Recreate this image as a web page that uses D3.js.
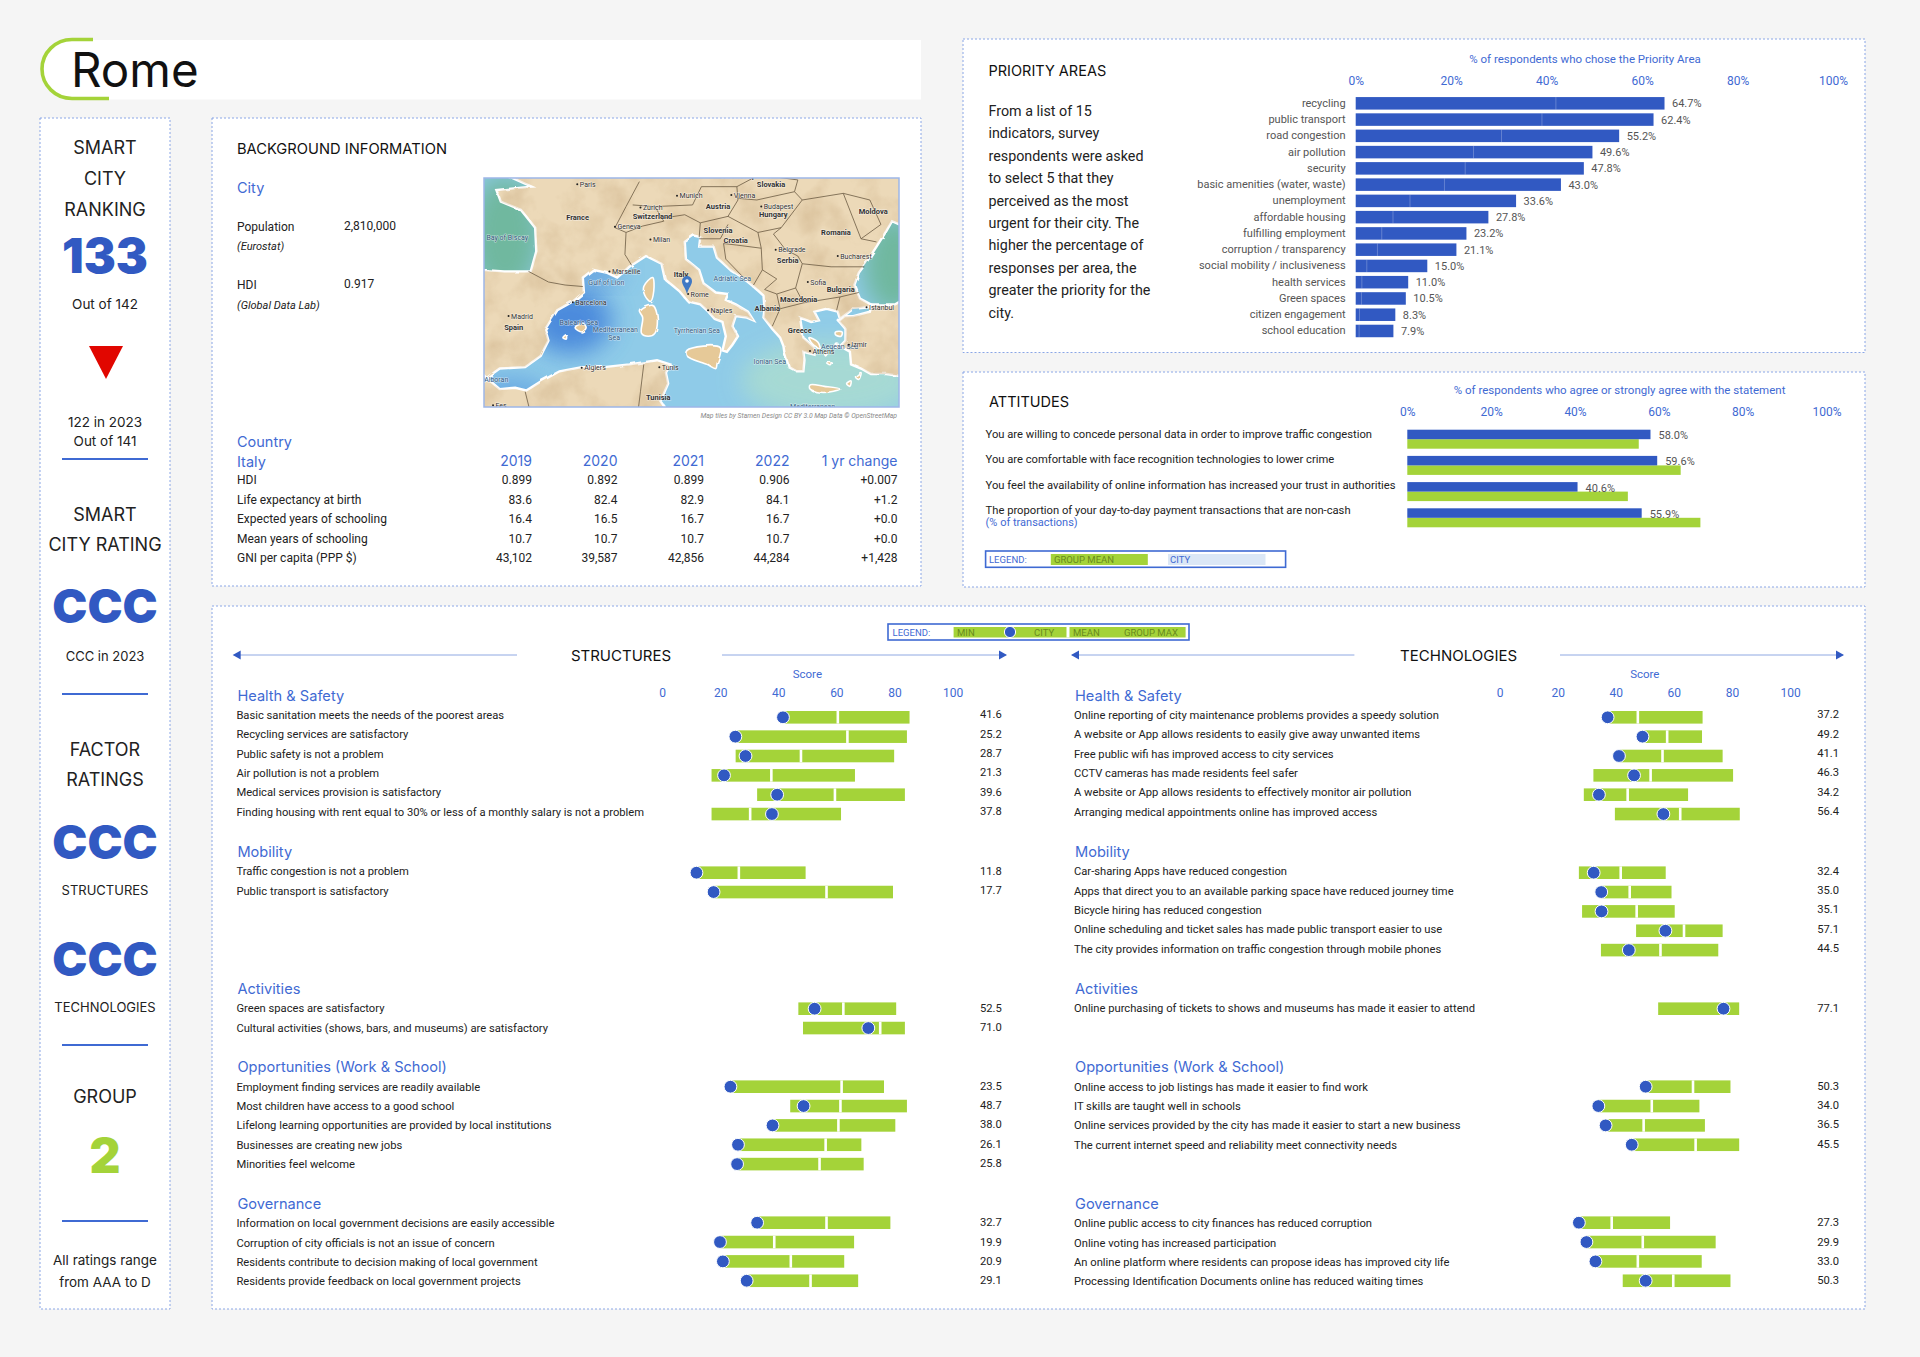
<!DOCTYPE html>
<html>
<head>
<meta charset="utf-8">
<title>Rome</title>
<script src="https://cdn.jsdelivr.net/npm/d3@7"></script>
<style>
  body { margin: 0; background: #f5f5f5; }
  text { font-family: Roboto, sans-serif; }
  .head { font-family: Inter, sans-serif; }
</style>
</head>
<body>
<div id="chart-area"></div>
<script>
const BLUE = '#3159c2', GREEN = '#a4d339', LINK = '#3f6ad3', DASH = '#8aa6e6', INK = '#222', GREY = '#555';

// ---- data ----
const tableYears = ['2019', '2020', '2021', '2022', '1 yr change'];
const tableHdi = ['HDI', '0.899', '0.892', '0.899', '0.906', '+0.007'];
const tableLife = ['Life expectancy at birth', '83.6', '82.4', '82.9', '84.1', '+1.2'];
const tableExpected = ['Expected years of schooling', '16.4', '16.5', '16.7', '16.7', '+0.0'];
const tableMean = ['Mean years of schooling', '10.7', '10.7', '10.7', '10.7', '+0.0'];
const tableGni = ['GNI per capita (PPP $)', '43,102', '39,587', '42,856', '44,284', '+1,428'];

const priorityLabels = ['recycling', 'public transport', 'road congestion', 'air pollution', 'security',
  'basic amenities (water, waste)', 'unemployment', 'affordable housing', 'fulfilling employment',
  'corruption / transparency', 'social mobility / inclusiveness', 'health services', 'Green spaces',
  'citizen engagement', 'school education'];
const priorityValues = [64.7, 62.4, 55.2, 49.6, 47.8, 43.0, 33.6, 27.8, 23.2, 21.1, 15.0, 11.0, 10.5, 8.3, 7.9];
const priorityText = ['From a list of 15', 'indicators, survey', 'respondents were asked', 'to select 5 that they',
  'perceived as the most', 'urgent for their city. The', 'higher the percentage of', 'responses per area, the',
  'greater the priority for the', 'city.'];

const attitudeLabels = ['You are willing to concede personal data in order to improve traffic congestion',
  'You are comfortable with face recognition technologies to lower crime',
  'You feel the availability of online information has increased your trust in authorities',
  'The proportion of your day-to-day payment transactions that are non-cash'];
const attitudeCity = [58.0, 59.6, 40.6, 55.9];
const attitudeGroup = [55.2, 65.2, 52.6, 69.9];

const percentTicks = [0, 20, 40, 60, 80, 100];
const groupNames = ['Health & Safety', 'Mobility', 'Activities', 'Opportunities (Work & School)', 'Governance'];

// rows: label, group min, city, group mean, group max
const sHealth = [
  ['Basic sanitation meets the needs of the poorest areas', 41.6, 41.6, 60.5, 85.2],
  ['Recycling services are satisfactory', 25.2, 25.2, 63.8, 84.3],
  ['Public safety is not a problem', 25.3, 28.7, 47.8, 79.9],
  ['Air pollution is not a problem', 17.0, 21.3, 37.6, 66.4],
  ['Medical services provision is satisfactory', 32.7, 39.6, 59.5, 83.6],
  ['Finding housing with rent equal to 30% or less of a monthly salary is not a problem', 17.0, 37.8, 30.3, 61.6]];
const sMobility = [
  ['Traffic congestion is not a problem', 11.8, 11.8, 26.4, 49.4],
  ['Public transport is satisfactory', 17.7, 17.7, 56.6, 79.5]];
const sActivities = [
  ['Green spaces are satisfactory', 46.9, 52.5, 62.4, 80.6],
  ['Cultural activities (shows, bars, and museums) are satisfactory', 48.5, 71.0, 75.1, 83.6]];
const sOpportunities = [
  ['Employment finding services are readily available', 23.5, 23.5, 61.8, 76.4],
  ['Most children have access to a good school', 44.1, 48.7, 61.4, 84.3],
  ['Lifelong learning opportunities are provided by local institutions', 38.0, 38.0, 60.7, 80.3],
  ['Businesses are creating new jobs', 26.1, 26.1, 56.3, 68.6],
  ['Minorities feel welcome', 25.8, 25.8, 54.2, 69.4]];
const sGovernance = [
  ['Information on local government decisions are easily accessible', 32.7, 32.7, 56.6, 78.6],
  ['Corruption of city officials is not an issue of concern', 19.9, 19.9, 38.6, 66.1],
  ['Residents contribute to decision making of local government', 20.9, 20.9, 44.3, 62.7],
  ['Residents provide feedback on local government projects', 29.1, 29.1, 51.1, 67.5]];

const tHealth = [
  ['Online reporting of city maintenance problems provides a speedy solution', 37.2, 37.2, 47.6, 69.9],
  ['A website or App allows residents to easily give away unwanted items', 49.2, 49.2, 57.7, 69.7],
  ['Free public wifi has improved access to city services', 41.1, 41.1, 56.1, 76.8],
  ['CCTV cameras has made residents feel safer', 32.3, 46.3, 52.0, 80.4],
  ['A website or App allows residents to effectively monitor air pollution', 29.0, 34.2, 44.1, 64.9],
  ['Arranging medical appointments online has improved access', 39.7, 56.4, 62.2, 82.7]];
const tMobility = [
  ['Car-sharing Apps have reduced congestion', 27.3, 32.4, 41.7, 57.2],
  ['Apps that direct you to an available parking space have reduced journey time', 35.0, 35.0, 44.8, 59.2],
  ['Bicycle hiring has reduced congestion', 28.4, 35.1, 47.2, 60.3],
  ['Online scheduling and ticket sales has made public transport easier to use', 47.0, 57.1, 63.5, 76.8],
  ['The city provides information on traffic congestion through mobile phones', 34.9, 44.5, 55.4, 75.3]];
const tActivities = [
  ['Online purchasing of tickets to shows and museums has made it easier to attend', 54.6, 77.1, 77.0, 82.5]];
const tOpportunities = [
  ['Online access to job listings has made it easier to find work', 50.3, 50.3, 66.6, 79.5],
  ['IT skills are taught well in schools', 34.0, 34.0, 52.4, 68.8],
  ['Online services provided by the city has made it easier to start a new business', 36.5, 36.5, 49.6, 70.7],
  ['The current internet speed and reliability meet connectivity needs', 45.5, 45.5, 67.5, 82.5]];
const tGovernance = [
  ['Online public access to city finances has reduced corruption', 27.3, 27.3, 38.6, 58.7],
  ['Online voting has increased participation', 29.9, 29.9, 49.3, 74.4],
  ['An online platform where residents can propose ideas has improved city life', 33.0, 33.0, 47.6, 69.6],
  ['Processing Identification Documents online has reduced waiting times', 42.4, 50.3, 59.8, 79.5]];

// ---- map data, lon/lat ----
const landEurope = [[-1.5,48.7],[-4.7,48.5],[-4.3,47.8],[-2.5,47.3],[-1.2,46.2],[-1.1,44.7],[-1.6,43.4],[-4,43.4],[-8,43.6],[-9,43],[-9,37],[-6.3,36.7],[-5.6,36],[-4.4,36.7],[-2.1,36.8],[-0.7,37.6],[0,38.7],[-0.3,39.5],[0.8,40.8],[2.2,41.4],[3.2,42],[3.1,43],[4,43.5],[5.3,43.3],[6.2,43],[7.3,43.7],[8.8,44.4],[10.2,43.9],[10.5,42.9],[11.8,42.1],[12.6,41.4],[13.7,41.2],[14.3,40.8],[15,40.2],[15.7,40],[16,39],[15.7,38],[16.1,37.9],[16.6,38.4],[17.1,39],[16.6,39.7],[16.9,40.4],[17.9,40.3],[18.5,40.1],[18,40.7],[16.9,41.2],[16,41.5],[16.2,41.9],[15.1,42],[14,42.6],[13.6,43.5],[12.4,44.2],[12.3,45.3],[13.1,45.7],[13.7,45.6],[13.6,45],[14.2,45],[14.9,45],[15.2,44.3],[16.4,43.5],[17.5,43],[18.5,42.4],[19.4,41.8],[19.5,40.9],[19.4,40.3],[20.2,39.5],[20.9,38.9],[21.2,38.3],[21.3,37.8],[21.7,36.8],[22.4,36.5],[23,36.5],[23.1,37.3],[23,37.9],[24,37.7],[24,38.2],[23,38.9],[22.9,39.3],[22.7,40.3],[23.7,40],[24.4,40.1],[24,40.7],[25.1,40.9],[26.1,40.7],[26.3,40.2],[27.5,40.9],[28.9,41],[29.1,41.2],[28.1,41.6],[27.6,42.5],[28,43.3],[28.6,43.9],[29.6,45],[30.5,46],[31,46.6],[33,46],[40,46],[40,52],[-8,52],[-6,50]];
const landTurkey = [[26.2,40.05],[26.8,39.5],[26.8,38.7],[26.3,38.3],[27.2,37.9],[27.3,37],[28.2,36.7],[29.1,36.3],[30.5,36.3],[33,36],[40,36],[40,42],[33,42],[31.3,41.2],[29.2,41.2],[29,40.7],[27.5,40.4],[26.7,40.4]];
const landAfrica = [[-8,35.5],[-6,35.7],[-5.4,35.9],[-4.4,35.2],[-3,35.3],[-2,35.1],[-0.6,35.8],[1,36.5],[3,36.8],[5,36.8],[7.3,37],[9.8,37.3],[11,37],[10.6,36.4],[10.8,35.6],[10.1,34.3],[11,33.3],[12,32.9],[20,31],[35,31],[35,28],[-8,28]];
const islands = [
  [[12.5,38],[15.5,38.2],[15.2,37],[15.1,36.7],[14.3,37],[12.5,37.6]],
  [[8.2,40.8],[9.3,41.2],[9.8,40.5],[9.6,39.2],[9,39],[8.4,39.2],[8.5,40.3]],
  [[9.4,43],[9.5,42.1],[9.2,41.4],[8.7,41.8],[8.6,42.4]],
  [[2.4,39.6],[3.1,39.9],[3.4,39.6],[3,39.3]],
  [[1.3,38.9],[1.6,39.1],[1.6,38.8]],
  [[23.6,35.5],[24.9,35.4],[26.3,35.2],[24.8,34.95],[23.6,35.2]],
  [[23.5,38.9],[24.3,38.6],[24.5,38.1],[23.9,38.4]],
  [[25.9,39.3],[26.5,39.3],[26.4,39],[25.9,39.1]],
  [[25.9,38.5],[26.1,38.5],[26.1,38.2],[25.9,38.2]],
  [[27.7,36.1],[28.2,36.4],[28,35.9]],
  [[25.1,37.1],[25.6,37.1],[25.5,36.9]],
  [[24.9,37.9],[25.2,37.9],[25,37.6]],
  [[26.9,35.6],[27.3,35.8],[27.2,35.4]]];
const borders = [
  [[-1.8,43.4],[0,42.7],[1.5,42.5],[3.1,42.4]],
  [[7.5,43.8],[6.9,44.5],[7,45.9],[6,46.2],[7,47.5],[8.2,49]],
  [[7,45.9],[8.5,46.3],[10.4,46.6],[9.6,47.5],[7.6,47.6]],
  [[10.4,46.8],[12.3,47],[13.7,46.5],[13.6,45.6]],
  [[9.6,47.5],[13,47.6],[13.8,48.7],[17,48.7],[17.1,47.9],[16.2,46.9],[13.7,46.5]],
  [[17.1,48],[18.8,47.9],[22.2,48.4],[22.9,47.9],[21,46.2],[18.9,45.9],[16.2,46.9]],
  [[13.6,45.5],[15.5,45.5],[16.2,46.4]],
  [[18.9,45.9],[19.2,44.9],[17,45.1],[15.8,45.2],[16,44.2],[17.6,43]],
  [[19.2,44.9],[19.3,43.5],[18.5,42.5]],
  [[19.3,43.5],[20.6,42.9],[19.5,42.2]],
  [[19.5,42.2],[20.6,41.9],[20.9,40.9],[20.2,39.7]],
  [[20.6,41.9],[22.3,42.3],[23,41.3],[20.9,40.9]],
  [[23,41.3],[26.3,41.7],[26,40.8]],
  [[26.3,41.7],[28,42]],
  [[22.3,42.3],[22.9,43.9],[22.5,44.4]],
  [[22.9,43.9],[25.5,43.7],[28.5,43.7]],
  [[21,46.2],[20.3,45.8],[21.4,44.8],[22.5,44.4]],
  [[26.6,48.3],[28.2,45.5],[29.6,45.3]],
  [[26.6,48.3],[29,47.9],[30,46.4],[28.2,45.5]],
  [[22.9,47.9],[26.6,48.3]],
  [[17,48.7],[19,49.4],[22.5,49.1],[22.2,48.4]],
  [[8.6,37],[8.3,35],[8,33]],
  [[-2.1,35],[-1.5,33]]];
// name, lon, lat, kind: c city, k country, s sea
const placeNames = [
  ['Paris',2.6,48.85,'c'],['France',1.6,46.8,'k'],['Munich',11.6,48.15,'c'],['Vienna',16.5,48.2,'c'],['Budapest',19.2,47.5,'c'],
  ['Slovakia',18.8,48.8,'k'],['Czech Republic',15.5,49.35,'k'],['Austria',14.2,47.5,'k'],['Hungary',19,47,'k'],['Moldova',28,47.2,'k'],
  ['Switzerland',7.6,46.9,'k'],['Zurich',8.3,47.45,'c'],['Geneva',6,46.25,'c'],['Milan',9.2,45.45,'c'],['Slovenia',14,46,'k'],
  ['Croatia',15.8,45.4,'k'],['Romania',24.6,45.9,'k'],['Belgrade',20.5,44.8,'c'],['Serbia',20.6,44.1,'k'],['Bucharest',26.1,44.4,'c'],
  ['Italy',11.3,43.2,'k'],['Rome',12.6,41.9,'c'],['Adriatic Sea',14.9,42.9,'s'],['Sofia',23.4,42.7,'c'],['Bulgaria',25.1,42.2,'k'],
  ['Macedonia',20.9,41.5,'k'],['Albania',18.6,40.9,'k'],['Naples',14.4,40.8,'c'],['Marseille',5.5,43.4,'c'],['Gulf of Lion',3.6,42.7,'s'],
  ['Barcelona',2.2,41.35,'c'],['Madrid',-3.6,40.4,'c'],['Spain',-4,39.6,'k'],['Balearic Sea',1,39.95,'s'],['Mediterranean',4,39.5,'s'],['Sea',5.4,38.9,'s'],
  ['Tyrrhenian Sea',11.3,39.4,'s'],['Greece',21.6,39.4,'k'],['Aegean Sea',24.6,38.3,'s'],['Izmir',27.1,38.4,'c'],['Istanbul',28.7,41,'c'],
  ['Athens',23.6,37.95,'c'],['Ionian Sea',18.5,37.2,'s'],['Algiers',3,36.75,'c'],['Tunis',10,36.8,'c'],['Tunisia',8.8,34.6,'k'],
  ['Mediterranean',21.8,33.9,'s'],['Alboran',-5.8,35.9,'s'],['Fes',-5,34,'c'],['Bay of Biscay',-5.6,45.6,'s']];

// ---- page ----
let svg = d3.select('#chart-area').append('svg')
  .attr('width', 1920)
  .attr('height', 1357)
  .style('display', 'block');

function panel(x, y, w, h) {
  svg.append('rect')
    .attr('x', x).attr('y', y).attr('width', w).attr('height', h)
    .attr('fill', '#fff')
    .attr('stroke', DASH)
    .attr('stroke-width', 1)
    .attr('stroke-dasharray', '2 2');
}

function label(g, x, y, str, size, color, anchor, extra) {
  let t = g.append('text')
    .attr('x', x).attr('y', y)
    .attr('font-size', size)
    .attr('fill', color || INK)
    .attr('text-anchor', anchor || 'start')
    .text(str);
  if (extra) extra(t);
  return t;
}

function head(x, y, str, size, color, anchor, weight) {
  return label(svg, x, y, str, size, color, anchor, t => t
    .attr('class', 'head')
    .attr('font-weight', weight || 400));
}

panel(40, 118, 130, 1191);
panel(212, 118, 709, 468);
panel(963, 39, 902, 313.5);
panel(963, 372, 902, 215);
panel(212, 606, 1653, 703);

// title
svg.append('rect').attr('x', 90).attr('y', 40).attr('width', 831).attr('height', 59.5).attr('fill', '#fff');
svg.append('path')
  .attr('d', 'M93,39.5 H72 A30,29.5 0 0 0 72,98.5 H109')
  .attr('fill', '#fff')
  .attr('stroke', GREEN)
  .attr('stroke-width', 3.6);
head(71, 86.5, 'Rome', 47.5, '#111');

// left column
const cx = 105;
head(cx, 154, 'SMART', 18, INK, 'middle');
head(cx, 184.5, 'CITY', 18, INK, 'middle');
head(cx, 215.5, 'RANKING', 18, INK, 'middle');
head(cx, 272.5, '133', 48, BLUE, 'middle', 900);
head(cx, 309, 'Out of 142', 13.5, INK, 'middle');
svg.append('path')
  .attr('d', d3.line()([[89, 346], [123, 346], [106, 379]]) + 'Z')
  .attr('fill', '#e10600');
head(cx, 426.5, '122 in 2023', 13.5, INK, 'middle');
head(cx, 446, 'Out of 141', 13.5, INK, 'middle');
head(cx, 520.5, 'SMART', 18, INK, 'middle');
head(cx, 551, 'CITY RATING', 18, INK, 'middle');
head(cx, 623, 'CCC', 47, BLUE, 'middle', 900);
head(cx, 661, 'CCC in 2023', 13, INK, 'middle');
head(cx, 756, 'FACTOR', 18, INK, 'middle');
head(cx, 786, 'RATINGS', 18, INK, 'middle');
head(cx, 859, 'CCC', 47, BLUE, 'middle', 900);
head(cx, 895, 'STRUCTURES', 13, INK, 'middle');
head(cx, 976, 'CCC', 47, BLUE, 'middle', 900);
head(cx, 1012, 'TECHNOLOGIES', 13, INK, 'middle');
head(cx, 1103, 'GROUP', 18, INK, 'middle');
head(cx, 1172.5, '2', 48, GREEN, 'middle', 900);
head(cx, 1265, 'All ratings range', 13.5, INK, 'middle');
head(cx, 1287, 'from AAA to D', 13.5, INK, 'middle');
[459, 694, 1045, 1221].forEach(y => {
  svg.append('line').attr('x1', 62).attr('x2', 148).attr('y1', y).attr('y2', y)
    .attr('stroke', LINK).attr('stroke-width', 2);
});

// background information
head(237, 154, 'BACKGROUND INFORMATION', 14.7, '#111');
head(237, 192.5, 'City', 14.5, LINK);
label(svg, 237, 231, 'Population', 12);
label(svg, 344, 230, '2,810,000', 12);
label(svg, 237, 249.5, '(Eurostat)', 11, INK, 'start', t => t.attr('font-style', 'italic'));
label(svg, 237, 289, 'HDI', 12);
label(svg, 344, 288, '0.917', 12);
label(svg, 237, 308.5, '(Global Data Lab)', 11, INK, 'start', t => t.attr('font-style', 'italic'));
head(237, 447, 'Country', 14.5, LINK);
head(237, 467, 'Italy', 14.5, LINK);

const tableColumns = [532, 617.5, 704, 789.5, 897.5];
tableYears.forEach((y, i) => head(tableColumns[i], 466, y, 14, LINK, 'end'));
[tableHdi, tableLife, tableExpected, tableMean, tableGni].forEach((row, r) => {
  let y = 484 + r * 19.6;
  label(svg, 237, y, row[0], 12);
  row.slice(1).forEach((v, i) => label(svg, tableColumns[i], y, v, 12, INK, 'end'));
});

// map
const mapBox = { x: 484, y: 178, w: 415, h: 229 };
const projection = d3.geoMercator().scale(635).center([12.5, 41.9]).translate([687, 294]);
const coast = d3.line().x(d => projection(d)[0]).y(d => projection(d)[1]);
const coastClosed = d3.line().x(d => projection(d)[0]).y(d => projection(d)[1]).curve(d3.curveCatmullRomClosed.alpha(0.5));

let defs = svg.append('defs');
defs.append('clipPath').attr('id', 'map-clip').append('rect')
  .attr('x', mapBox.x).attr('y', mapBox.y).attr('width', mapBox.w).attr('height', mapBox.h);
defs.append('filter').attr('id', 'soft').attr('x', '-50%').attr('y', '-50%').attr('width', '200%').attr('height', '200%')
  .append('feGaussianBlur').attr('stdDeviation', 12);
let rough = defs.append('filter').attr('id', 'rough').attr('filterUnits', 'userSpaceOnUse')
  .attr('x', mapBox.x).attr('y', mapBox.y).attr('width', mapBox.w).attr('height', mapBox.h);
rough.append('feTurbulence').attr('type', 'fractalNoise').attr('baseFrequency', 0.08).attr('numOctaves', 2).attr('seed', 4).attr('result', 'n');
rough.append('feDisplacementMap').attr('in', 'SourceGraphic').attr('in2', 'n').attr('scale', 3).attr('result', 'shape');
// brown watercolor mottling, kept inside the land shapes only
let blotch = defs.append('filter').attr('id', 'blotch').attr('filterUnits', 'userSpaceOnUse')
  .attr('x', mapBox.x).attr('y', mapBox.y).attr('width', mapBox.w).attr('height', mapBox.h);
blotch.append('feTurbulence').attr('type', 'fractalNoise').attr('baseFrequency', 0.03).attr('numOctaves', 4).attr('seed', 9);
blotch.append('feColorMatrix').attr('values', '0 0 0 0 0.60  0 0 0 0 0.43  0 0 0 0 0.24  1.8 0 0 0 -0.75').attr('result', 'tint');
blotch.append('feComposite').attr('in', 'tint').attr('in2', 'SourceAlpha').attr('operator', 'in');

let map = svg.append('g').attr('clip-path', 'url(#map-clip)');
map.append('rect').attr('x', mapBox.x).attr('y', mapBox.y).attr('width', mapBox.w).attr('height', mapBox.h).attr('fill', '#8fcbe8');
// darker and paler washes of the sea
[[570, 320, 42, 34, '#3f80da', 0.85], [596, 272, 26, 12, '#4d8ada', 0.7], [510, 395, 40, 18, '#5a9be0', 0.7],
  [830, 380, 90, 40, '#a9dbd2', 0.9], [505, 235, 36, 60, '#6fb89f', 1], [895, 265, 32, 50, '#6fb89f', 1]].forEach(w => {
  map.append('ellipse').attr('cx', w[0]).attr('cy', w[1]).attr('rx', w[2]).attr('ry', w[3])
    .attr('fill', w[4]).attr('opacity', w[5]).attr('filter', 'url(#soft)');
});
let land = map.append('g').attr('filter', 'url(#rough)');
land.selectAll('path.land')
  .data([landEurope, landTurkey, landAfrica])
  .enter().append('path')
  .attr('class', 'land')
  .attr('d', d => coast(d) + 'Z')
  .attr('fill', '#ecd9b8')
  .attr('stroke', '#fff')
  .attr('stroke-width', 2.4);
land.selectAll('path.island')
  .data(islands)
  .enter().append('path')
  .attr('class', 'island')
  .attr('d', d => coastClosed(d))
  .attr('fill', '#e6c998')
  .attr('stroke', '#fff')
  .attr('stroke-width', 1.6);
map.append('g').selectAll('path')
  .data([landEurope, landTurkey, landAfrica])
  .enter().append('path')
  .attr('d', d => coast(d) + 'Z')
  .attr('fill', '#000')
  .attr('filter', 'url(#blotch)')
  .attr('opacity', 0.6);
map.append('g').selectAll('path')
  .data(borders)
  .enter().append('path')
  .attr('d', d => coast(d))
  .attr('fill', 'none')
  .attr('stroke', '#6b5a42')
  .attr('stroke-width', 0.8);
placeNames.forEach(p => {
  let pt = projection([p[1], p[2]]);
  if (p[3] === 'c') {
    map.append('circle').attr('cx', pt[0]).attr('cy', pt[1]).attr('r', 1).attr('fill', '#222');
  }
  map.append('text')
    .attr('x', pt[0] + (p[3] === 'c' ? 2.5 : 0))
    .attr('y', pt[1] + 2.5)
    .attr('font-size', p[3] === 'k' ? 7.5 : 7)
    .attr('font-weight', p[3] === 'k' ? 700 : 400)
    .attr('fill', p[3] === 's' ? '#355a80' : '#333')
    .attr('stroke', '#fff')
    .attr('stroke-opacity', 0.55)
    .attr('stroke-width', 1.2)
    .attr('paint-order', 'stroke')
    .text(p[0]);
});
// pin on Rome
let pin = projection([12.5, 41.9]);
map.append('path')
  .attr('d', `M${pin[0]},${pin[1]} C${pin[0] - 2},${pin[1] - 7} ${pin[0] - 5},${pin[1] - 9} ${pin[0] - 5},${pin[1] - 13} A5,5 0 1 1 ${pin[0] + 5},${pin[1] - 13} C${pin[0] + 5},${pin[1] - 9} ${pin[0] + 2},${pin[1] - 7} ${pin[0]},${pin[1]} Z`)
  .attr('fill', '#3f78c4');
map.append('circle').attr('cx', pin[0]).attr('cy', pin[1] - 13).attr('r', 1.8).attr('fill', '#fff');
svg.append('rect').attr('x', mapBox.x).attr('y', mapBox.y).attr('width', mapBox.w).attr('height', mapBox.h)
  .attr('fill', 'none').attr('stroke', '#9db6e8').attr('stroke-width', 1.5);
label(svg, 897, 418, 'Map tiles by Stamen Design CC BY 3.0 Map Data \u00a9 OpenStreetMap', 6.8, '#888', 'end', t => t.attr('font-style', 'italic'));

// shared axis on top of a block
function topAxis(scale, ticks, fmt, y, size) {
  let g = svg.append('g')
    .attr('transform', `translate(0, ${y})`)
    .call(d3.axisTop(scale).tickValues(ticks).tickSize(0).tickPadding(0).tickFormat(fmt));
  g.select('.domain').remove();
  g.selectAll('text')
    .attr('font-size', size)
    .attr('font-family', 'Roboto, sans-serif')
    .attr('fill', LINK);
  return g;
}

// priority areas
head(988.5, 75.7, 'PRIORITY AREAS', 14.5, '#111');
priorityText.forEach((line, i) => label(svg, 988.5, 116 + i * 22.4, line, 14.3));
label(svg, 1585, 62.7, '% of respondents who chose the Priority Area', 11.5, LINK, 'middle');

let xPriority = d3.scaleLinear().domain([0, 100]).range([1355.7, 1833]);
let yPriority = d3.scaleBand().domain(priorityLabels).range([95.2, 339.1]).paddingInner(0.23).paddingOuter(0.115);
topAxis(xPriority, percentTicks, d => d + '%', 85, 12);

svg.append('g').selectAll('rect')
  .data(priorityValues)
  .enter().append('rect')
  .attr('x', xPriority(0))
  .attr('y', (d, i) => yPriority(priorityLabels[i]))
  .attr('width', d => xPriority(d) - xPriority(0))
  .attr('height', yPriority.bandwidth())
  .attr('fill', BLUE);
// thin lighter seam inside each bar
svg.append('g').selectAll('rect')
  .data(priorityValues)
  .enter().append('rect')
  .attr('x', d => xPriority(d * d / 100))
  .attr('y', (d, i) => yPriority(priorityLabels[i]))
  .attr('width', 0.8)
  .attr('height', yPriority.bandwidth())
  .attr('fill', '#fff')
  .attr('opacity', 0.3);
priorityValues.forEach((d, i) => {
  let y = yPriority(priorityLabels[i]) + yPriority.bandwidth() / 2 + 3.5;
  label(svg, 1345.6, y, priorityLabels[i], 11, GREY, 'end');
  label(svg, xPriority(d) + 7.5, y + 0.5, d.toFixed(1) + '%', 11, GREY);
});

// attitudes
head(989, 407, 'ATTITUDES', 14.5, '#111');
label(svg, 1619.6, 394, '% of respondents who agree or strongly agree with the statement', 11.5, LINK, 'middle');
let xAttitude = d3.scaleLinear().domain([0, 100]).range([1407.3, 1826.6]);
topAxis(xAttitude, percentTicks, d => d + '%', 416, 12);
let yAttitude = d3.scaleLinear().domain([0, 3]).range([429.7, 508.3]);
let yAttitudeText = d3.scaleLinear().domain([0, 3]).range([437.9, 513.9]);
svg.append('g').selectAll('rect')
  .data(attitudeGroup)
  .enter().append('rect')
  .attr('x', xAttitude(0))
  .attr('y', (d, i) => yAttitude(i) + 9.5)
  .attr('width', d => xAttitude(d) - xAttitude(0))
  .attr('height', 9.5)
  .attr('fill', GREEN);
svg.append('g').selectAll('rect')
  .data(attitudeCity)
  .enter().append('rect')
  .attr('x', xAttitude(0))
  .attr('y', (d, i) => yAttitude(i))
  .attr('width', d => xAttitude(d) - xAttitude(0))
  .attr('height', 9.5)
  .attr('fill', BLUE);
attitudeCity.forEach((d, i) => {
  label(svg, 985.6, yAttitudeText(i), attitudeLabels[i], 11.2);
  label(svg, xAttitude(d) + 8, yAttitude(i) + 9.5, d.toFixed(1) + '%', 11, GREY);
});
label(svg, 985.6, 525.7, '(% of transactions)', 11, LINK);

// attitudes legend
svg.append('rect').attr('x', 985.6).attr('y', 551).attr('width', 300).attr('height', 16.3)
  .attr('fill', '#fff').attr('stroke', LINK).attr('stroke-width', 1.6);
label(svg, 989, 562.5, 'LEGEND:', 9.5, LINK);
svg.append('rect').attr('x', 1050.8).attr('y', 554).attr('width', 97).attr('height', 11).attr('fill', GREEN);
svg.append('rect').attr('x', 1168).attr('y', 554).attr('width', 97.5).attr('height', 11).attr('fill', '#dbe7f6');
label(svg, 1054, 562.5, 'GROUP MEAN', 9.5, '#688a1e');
label(svg, 1170, 562.5, 'CITY', 9.5, LINK);

// score legend
svg.append('rect').attr('x', 888).attr('y', 624).attr('width', 301).attr('height', 16)
  .attr('fill', '#fff').attr('stroke', LINK).attr('stroke-width', 1.6);
label(svg, 892.6, 635.5, 'LEGEND:', 9.5, LINK);
svg.append('rect').attr('x', 953.6).attr('y', 627).attr('width', 232).attr('height', 10.5).attr('fill', GREEN);
svg.append('rect').attr('x', 1066.5).attr('y', 627).attr('width', 3).attr('height', 10.5).attr('fill', '#fff');
svg.append('circle').attr('cx', 1010).attr('cy', 632).attr('r', 5.6).attr('fill', BLUE).attr('stroke', '#fff').attr('stroke-width', 1);
label(svg, 957, 635.5, 'MIN', 9.5, '#688a1e');
label(svg, 1034, 635.5, 'CITY', 9.5, '#688a1e');
label(svg, 1073, 635.5, 'MEAN', 9.5, '#688a1e');
label(svg, 1124, 635.5, 'GROUP MAX', 9.5, '#688a1e');

// score columns
const groupRowY = [717.3, 872.7, 1008.7, 1086.7, 1222.7];
const groupHeadY = [701, 857, 994, 1072, 1209];
// row text drifts against the bars from block to block
const labelShift = [1.7, 2.7, 3.7, 4, 4.7];
const valueShift = [1, 2, 3, 3, 3.7];
const rowStep = 19.35;

function arrowLine(x1, x2, y) {
  svg.append('line').attr('x1', x1).attr('x2', x2).attr('y1', y).attr('y2', y)
    .attr('stroke', '#8fa8e2').attr('stroke-width', 1);
}

function scoreColumn(title, titleX, arrows, x0, x100, textX, valueX, groups) {
  head(titleX, 661, title, 15, '#111', 'middle');
  arrowLine(arrows[0], arrows[1], 655);
  arrowLine(arrows[2], arrows[3], 655);
  svg.append('path').attr('d', d3.line()([[arrows[0] - 1, 655], [arrows[0] + 7, 650.5], [arrows[0] + 7, 659.5]]) + 'Z').attr('fill', BLUE);
  svg.append('path').attr('d', d3.line()([[arrows[3] + 1, 655], [arrows[3] - 7, 650.5], [arrows[3] - 7, 659.5]]) + 'Z').attr('fill', BLUE);

  let x = d3.scaleLinear().domain([0, 100]).range([x0, x100]);
  label(svg, x(50), 678, 'Score', 11.5, LINK, 'middle');
  topAxis(x, percentTicks, d => d, 696.7, 12);

  groups.forEach((rows, g) => {
    head(textX + 1, groupHeadY[g], groupNames[g], 14.6, LINK);
    let gr = svg.append('g');
    let y = i => groupRowY[g] + i * rowStep;
    rows.forEach((r, i) => {
      label(gr, textX, y(i) + labelShift[g], r[0], 11.2);
      label(gr, valueX, y(i) + valueShift[g], r[2].toFixed(1), 11.2, INK, 'end');
    });
    gr.selectAll('rect')
      .data(rows)
      .enter().append('rect')
      .attr('x', d => x(d[1]))
      .attr('y', (d, i) => y(i) - 6.3)
      .attr('width', d => x(d[4]) - x(d[1]))
      .attr('height', 12.6)
      .attr('fill', GREEN);
    gr.selectAll('line')
      .data(rows)
      .enter().append('line')
      .attr('x1', d => x(d[3]))
      .attr('x2', d => x(d[3]))
      .attr('y1', (d, i) => y(i) - 6.3)
      .attr('y2', (d, i) => y(i) + 6.3)
      .attr('stroke', '#fff')
      .attr('stroke-width', 2.6);
    gr.selectAll('circle')
      .data(rows)
      .enter().append('circle')
      .attr('cx', d => x(d[2]))
      .attr('cy', (d, i) => y(i))
      .attr('r', 6.4)
      .attr('fill', BLUE)
      .attr('stroke', '#fff')
      .attr('stroke-width', 1);
  });
}

scoreColumn('STRUCTURES', 621, [233.7, 517, 722, 1006], 662.2, 952.5, 236.4, 1001.8,
  [sHealth, sMobility, sActivities, sOpportunities, sGovernance]);
scoreColumn('TECHNOLOGIES', 1458.6, [1072, 1354.4, 1560, 1843], 1499.6, 1790, 1074, 1839,
  [tHealth, tMobility, tActivities, tOpportunities, tGovernance]);
</script>
</body>
</html>
